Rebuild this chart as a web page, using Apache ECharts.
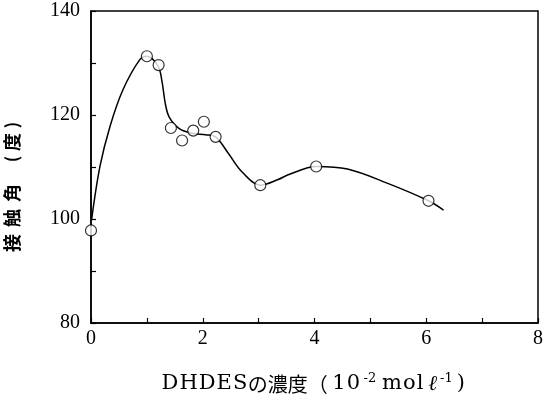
<!DOCTYPE html>
<html>
<head>
<meta charset="utf-8">
<script src="https://cdn.jsdelivr.net/npm/echarts@6/dist/echarts.min.js"></script>
<style>
  html, body { margin: 0; padding: 0; background: #fff; }
  #chart { width: 546px; height: 402px; }
</style>
</head>
<body>
<div id="chart"></div>
<script>
// measured points (circles)
var pointX = [0, 1.0, 1.21, 1.43, 1.63, 1.83, 2.02, 2.23, 3.03, 4.03, 6.04];
var pointY = [97.8, 131.3, 129.6, 117.5, 115.1, 117.0, 118.7, 115.8, 106.5, 110.1, 103.5];

// hand drawn fitted curve
var curveX = [0.01, 0.16, 0.34, 0.57, 0.87, 1.0, 1.2, 1.27, 1.33, 1.40, 1.58, 1.81, 2.05, 2.23, 2.46, 2.70, 3.03, 3.35, 3.53, 4.03, 4.59, 5.30, 6.04, 6.31];
var curveY = [99.8, 110.1, 117.8, 124.8, 130.6, 131.3, 129.4, 126.5, 122.2, 119.6, 117.4, 116.5, 116.2, 115.8, 112.6, 109.1, 106.5, 107.6, 108.5, 110.1, 109.6, 106.9, 103.5, 101.7];

var serif = '"Liberation Serif", "DejaVu Serif", serif';
var wideSerif = '"DejaVu Serif", serif';
var cjk = '"Noto Sans CJK JP", sans-serif';

function pairs(xs, ys) {
    var out = [];
    for (var i = 0; i < xs.length; i++) out.push([xs[i], ys[i]]);
    return out;
}

// wrap every char in its own rich fragment so it gets letter spacing
function spaced(str, name) {
    var s = '';
    for (var i = 0; i < str.length; i++) s += '{' + name + '|' + str.charAt(i) + '}';
    return s;
}

// y axis name, one char per text so the spacing matches
var yNameChars = ['接', '触', '角', '(', '度', ')'];
var yNameCenters = [243, 218, 193, 159, 142, 125];
var yNameGraphics = yNameChars.map(function(c, i) {
    return {
        type: 'text', x: 12, y: yNameCenters[i], rotation: Math.PI / 2,
        style: {
            text: c, fill: '#000', fontFamily: cjk, fontWeight: 'bold',
            fontSize: c === '(' || c === ')' ? 17 : 18,
            align: 'center', verticalAlign: 'middle'
        }
    };
});

var xNameText = spaced('DHDES', 'a') + '{b|の濃度（}' + spaced('10', 'a') + '{s|-2}{g| }' +
    spaced('mol', 'a') + '{g| }{l|ℓ}{s|-1}{p|)}';

var chart = echarts.init(document.getElementById('chart'));

var option = {
    animation: false,
    backgroundColor: '#fff',
    grid: {
        left: 91, right: 4, top: 11, bottom: 79,
        show: true, borderColor: '#000', borderWidth: 1.5
    },
    xAxis: {
        type: 'value', min: 0, max: 8, interval: 1,
        axisLine: { show: true, lineStyle: { color: '#000', width: 1.5 } },
        axisTick: { show: true, inside: true, length: 5, lineStyle: { color: '#000', width: 1.2 } },
        splitLine: { show: false },
        axisLabel: {
            color: '#000', fontFamily: serif, fontSize: 20, margin: 6,
            formatter: function(v) { return v % 2 === 0 ? String(v) : ''; }
        }
    },
    yAxis: {
        type: 'value', min: 80, max: 140, interval: 10,
        axisLine: { show: true, lineStyle: { color: '#000', width: 1.5 } },
        axisTick: { show: true, inside: true, length: 5, lineStyle: { color: '#000', width: 1.2 } },
        splitLine: { show: false },
        axisLabel: {
            color: '#000', fontFamily: serif, fontSize: 20, margin: 11,
            formatter: function(v) { return v % 20 === 0 ? String(v) : ''; }
        }
    },
    graphic: yNameGraphics.concat([
        {
            type: 'text', x: 313, y: 384,
            style: {
                text: xNameText,
                fill: '#000', align: 'center', verticalAlign: 'middle',
                rich: {
                    a: { fontFamily: wideSerif, fontSize: 21, fill: '#000', padding: [0, 0.5, 0, 0.5], lineHeight: 24 },
                    b: { fontFamily: cjk, fontSize: 20, fill: '#000', padding: [0, 4, 0, 0], lineHeight: 24 },
                    g: { fontFamily: wideSerif, fontSize: 14, fill: '#000' },
                    l: { fontFamily: serif, fontSize: 21, fontStyle: 'italic', fill: '#000', lineHeight: 24 },
                    s: { fontFamily: wideSerif, fontSize: 13, fill: '#000', verticalAlign: 'top', lineHeight: 14, padding: [0, 1, 0, 3] },
                    p: { fontFamily: wideSerif, fontSize: 21, fill: '#000', padding: [0, 0, 0, 3], lineHeight: 24 }
                }
            }
        }
    ]),
    series: [
        {
            type: 'line', data: pairs(curveX, curveY), smooth: 0.35,
            showSymbol: false, lineStyle: { color: '#000', width: 1.5 }, z: 2
        },
        {
            type: 'scatter', data: pairs(pointX, pointY), symbol: 'circle', symbolSize: 11,
            itemStyle: { color: '#fff', borderColor: '#000', borderWidth: 1.2 }, z: 3
        }
    ]
};

chart.setOption(option);
</script>
</body>
</html>
